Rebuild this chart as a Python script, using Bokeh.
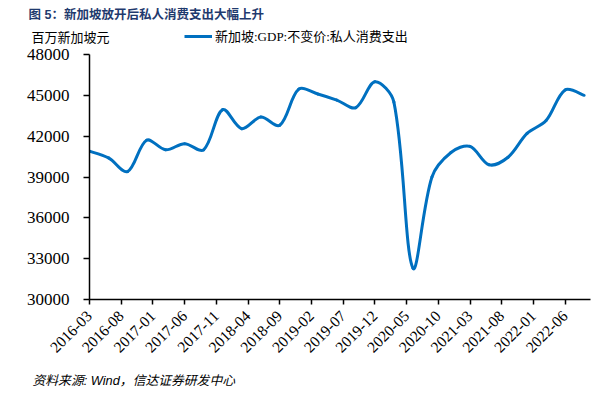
import math
from bokeh.plotting import figure
from bokeh.models import Range1d, FixedTicker, Legend, LegendItem, ColumnDataSource, Label
from bokeh.embed import file_html
from bokeh.resources import INLINE

# ---- data ----
dates = ["2016-03", "2016-06", "2016-09", "2016-12",
         "2017-03", "2017-06", "2017-09", "2017-12",
         "2018-03", "2018-06", "2018-09", "2018-12",
         "2019-03", "2019-06", "2019-09", "2019-12",
         "2020-03", "2020-06", "2020-09", "2020-12",
         "2021-03", "2021-06", "2021-09", "2021-12",
         "2022-03", "2022-06", "2022-09"]
consumption = [40900, 40400, 39400, 41700,
               41000, 41450, 41000, 43950,
               42550, 43400, 42800, 45450,
               45100, 44650, 44100, 46000,
               44500, 32300, 39000, 40800,
               41250, 39900, 40450, 42200,
               43150, 45400, 45000]
tick_labels = ["2016-03", "2016-08", "2017-01", "2017-06", "2017-11", "2018-04",
               "2018-09", "2019-02", "2019-07", "2019-12", "2020-05", "2020-10",
               "2021-03", "2021-08", "2022-01", "2022-06"]
y_ticks = [30000, 33000, 36000, 39000, 42000, 45000, 48000]
series_name = "新加坡:GDP:不变价:私人消费支出"
unit_text = "百万新加坡元"
title_text = "图 5：新加坡放开后私人消费支出大幅上升"
source_text = "资料来源: Wind，信达证券研发中心"
axis_end = "2022-10"


def month_index(s):
    y, m = s.split("-")
    return (int(y) - 2016) * 12 + int(m) - 3


xs = [month_index(d) for d in dates]
ys = consumption
tick_pos = [month_index(t) for t in tick_labels]

W = 602
FRAME_W, FRAME_H = 501, 245
x_end = month_index(axis_end)
kx = FRAME_W / x_end                      # px per month
ky = FRAME_H / (y_ticks[-1] - y_ticks[0])  # px per unit

# Excel-like smoothing: cubic Bezier segments, tangents scaled by on-screen segment lengths
n = len(xs)


def seglen(i):
    return math.hypot((xs[i + 1] - xs[i]) * kx, (ys[i + 1] - ys[i]) * ky)


d = [seglen(i) for i in range(n - 1)]
seg = dict(x0=[], y0=[], x1=[], y1=[], cx0=[], cy0=[], cx1=[], cy1=[])
for i in range(n - 1):
    a = max(i - 1, 0)
    b = min(i + 2, n - 1)
    dp = d[i - 1] if i > 0 else d[i]
    dn = d[i + 1] if i + 1 < n - 1 else d[i]
    f0 = d[i] / (dp + d[i]) / 3
    f1 = d[i] / (d[i] + dn) / 3
    seg["x0"].append(xs[i]); seg["y0"].append(ys[i])
    seg["x1"].append(xs[i + 1]); seg["y1"].append(ys[i + 1])
    seg["cx0"].append(xs[i] + (xs[i + 1] - xs[a]) * f0)
    seg["cy0"].append(ys[i] + (ys[i + 1] - ys[a]) * f0)
    seg["cx1"].append(xs[i + 1] - (xs[b] - xs[i]) * f1)
    seg["cy1"].append(ys[i + 1] - (ys[b] - ys[i]) * f1)

BLUE = "#0070C0"
SERIF = "'Liberation Serif', 'Noto Sans CJK SC'"
SANS = "'Liberation Sans', 'Noto Sans CJK SC'"


def bare(h):
    f = figure(width=W, height=h, output_backend="svg", toolbar_location=None,
               x_axis_type=None, y_axis_type=None,
               x_range=Range1d(0, 1), y_range=Range1d(0, 1),
               min_border_left=0, min_border_right=0, min_border_top=0, min_border_bottom=0)
    f.outline_line_color = None
    f.background_fill_color = "white"
    f.border_fill_color = "white"
    return f


# ---- header: title, unit, legend ----
head = bare(46)
# the series itself (falls outside this strip's ranges; only its legend entry shows)
leg_r = head.line(x=xs, y=ys, line_color=BLUE, line_width=3)
head.add_layout(Label(x=28, y=32, x_units="screen", y_units="screen", text=title_text,
                      text_font=SANS, text_font_style="bold", text_font_size="12.5px",
                      text_color="#1F3A6E", text_baseline="middle"))
head.add_layout(Label(x=31, y=9, x_units="screen", y_units="screen", text=unit_text,
                      text_font=SERIF, text_font_size="13px", text_color="black",
                      text_baseline="middle"))
legend = Legend(items=[LegendItem(label=series_name, renderers=[leg_r])],
                location=(184, 1), orientation="horizontal",
                padding=0, margin=0, spacing=0, label_standoff=3,
                glyph_width=28, glyph_height=14, label_height=14,
                border_line_color=None, background_fill_alpha=0,
                label_text_font=SERIF, label_text_font_size="13px",
                label_text_color="black")
head.add_layout(legend, "center")

# ---- main chart ----
p = figure(width=W, height=323, output_backend="svg", toolbar_location=None,
           x_range=Range1d(0, x_end), y_range=Range1d(y_ticks[0], y_ticks[-1]),
           min_border_left=89, min_border_right=W - 89 - FRAME_W, min_border_top=8,
           min_border_bottom=323 - 8 - FRAME_H)
p.outline_line_color = None
p.xgrid.visible = False
p.ygrid.visible = False
p.background_fill_color = "white"
p.border_fill_color = "white"

p.bezier(source=ColumnDataSource(seg), x0="x0", y0="y0", x1="x1", y1="y1",
         cx0="cx0", cy0="cy0", cx1="cx1", cy1="cy1",
         line_color=BLUE, line_width=3, line_cap="round")

p.yaxis.ticker = FixedTicker(ticks=y_ticks)
p.yaxis.major_tick_out = 6
p.yaxis.major_tick_in = 0
p.yaxis.minor_tick_out = 0
p.yaxis.minor_tick_in = 0
p.yaxis.axis_line_color = "black"
p.yaxis.axis_line_width = 1.5
p.yaxis.major_tick_line_width = 1.5
p.yaxis.major_label_text_font = SERIF
p.yaxis.major_label_text_font_size = "17px"
p.yaxis.major_label_text_color = "black"
p.yaxis.major_label_standoff = 14

p.xaxis.ticker = FixedTicker(ticks=tick_pos)
p.xaxis.major_label_overrides = {tp: lab for tp, lab in zip(tick_pos, tick_labels)}
p.xaxis.major_tick_out = 5
p.xaxis.major_tick_in = 0
p.xaxis.minor_tick_out = 0
p.xaxis.minor_tick_in = 0
p.xaxis.axis_line_color = "black"
p.xaxis.axis_line_width = 1.5
p.xaxis.major_tick_line_width = 1.5
p.xaxis.major_label_orientation = math.pi / 4
p.xaxis.major_label_text_font = SERIF
p.xaxis.major_label_text_font_size = "15.5px"
p.xaxis.major_label_text_color = "black"
p.xaxis.major_label_standoff = 9

# ---- footer: source ----
foot = bare(22)
foot.add_layout(Label(x=32, y=11, x_units="screen", y_units="screen", text=source_text,
                      text_font=SANS, text_font_style="italic", text_font_size="12.8px",
                      text_color="black", text_baseline="middle"))

open("out.html", "w").write(file_html([head, p, foot], INLINE))
